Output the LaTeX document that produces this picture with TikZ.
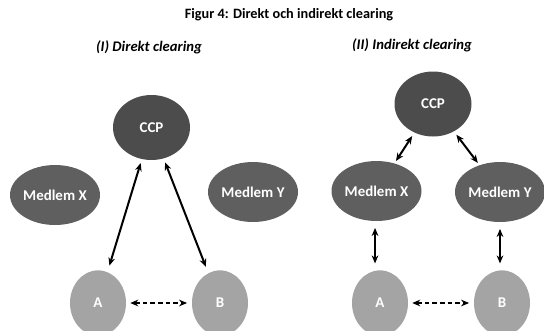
\documentclass[tikz,border=0pt]{standalone}
\usepackage{fontspec}
\setmainfont{Carlito}
\usetikzlibrary{shapes.geometric,arrows.meta}
\definecolor{ccpcol}{HTML}{4C4C4C}
\definecolor{memcol}{HTML}{5F5F5F}
\definecolor{cpcol}{HTML}{A4A4A4}
\tikzset{
  lbl/.style={text=white,font=\bfseries\fontsize{11.2}{13}\selectfont},
  ccpnode/.style={ellipse,fill=ccpcol,minimum width=57.75pt,minimum height=48.75pt,inner sep=0pt,lbl},
  memnode/.style={ellipse,fill=memcol,minimum width=67.5pt,minimum height=45pt,inner sep=0pt,lbl},
  cpnode/.style={ellipse,fill=cpcol,minimum width=42pt,minimum height=49pt,inner sep=0pt,lbl},
  link/.style={{Stealth[length=6pt,width=5pt]}-{Stealth[length=6pt,width=5pt]},line width=1.5pt,black},
  dlink/.style={link,dash pattern=on 3.5pt off 2.2pt},
}
\begin{document}
\begin{tikzpicture}[x=0.75pt,y=-0.75pt]
\useasboundingbox (0,0) rectangle (544,330);
\node[font=\bfseries\fontsize{10.7}{12}\selectfont] (title) at (289,15) {Figur 4: Direkt och indirekt clearing};
\node[font=\bfseries\itshape\fontsize{11}{13}\selectfont] (st1) at (149,47) {(I) Direkt clearing};
\node[font=\bfseries\itshape\fontsize{11}{13}\selectfont] (st2) at (412,45) {(II) Indirekt clearing};
% left
\node[ccpnode] (ccp1) at (151.5,127.5) {CCP};
\node[memnode] (mx1) at (55,195) {Medlem X};
\node[memnode] (my1) at (253,192) {Medlem Y};
\node[cpnode] (a1) at (98,303) {A};
\node[cpnode] (b1) at (220,303) {B};
\draw[link,shorten <=5pt,shorten >=3pt] (a1) -- (ccp1);
\draw[link,shorten <=5pt,shorten >=3pt] (b1) -- (ccp1);
\draw[dlink,shorten <=3pt,shorten >=3.5pt] (a1) -- (b1);
% right
\node[ccpnode] (ccp2) at (433,104) {CCP};
\node[memnode] (mx2) at (376.5,191) {Medlem X};
\node[memnode] (my2) at (500,192) {Medlem Y};
\node[cpnode] (a2) at (380,303) {A};
\node[cpnode] (b2) at (502,303) {B};
\draw[link,shorten <=3pt,shorten >=2pt] (ccp2) -- (mx2);
\draw[link,shorten <=3pt,shorten >=2pt] (ccp2) -- (my2);
\draw[link,shorten <=5pt,shorten >=5pt] ([xshift=-1.1pt]mx2.south) -- ([xshift=-1.1pt]mx2.south |- a2.north);
\draw[link,shorten <=5pt,shorten >=5pt] (my2.south) -- (my2.south |- b2.north);
\draw[dlink,shorten <=3pt,shorten >=3.5pt] (a2) -- (b2);
\end{tikzpicture}
\end{document}
